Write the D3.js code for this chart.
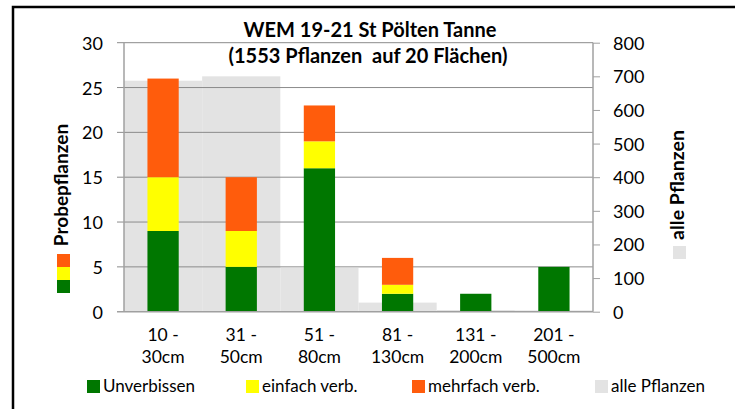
<!DOCTYPE html>
<html>
<head>
<meta charset="utf-8">
<script src="https://cdn.jsdelivr.net/npm/d3@7"></script>
<style>
  body { margin: 0; background: #fff; }
  text { font-family: Lato, "Open Sans", sans-serif; fill: #000; }
</style>
</head>
<body>
<div id="chart"></div>
<script>
// data
const categories = ["10 - 30cm", "31 - 50cm", "51 - 80cm", "81 - 130cm", "131 - 200cm", "201 - 500cm"];
const unverbissen = [9, 5, 16, 2, 2, 5];
const einfach = [6, 4, 3, 1, 0, 0];
const mehrfach = [11, 6, 4, 3, 0, 0];
const allePflanzen = [687, 700, 130, 27, 5, 4];
const leftTicks = [0, 5, 10, 15, 20, 25, 30];
const rightTicks = [0, 100, 200, 300, 400, 500, 600, 700, 800];

const seriesNames = ["Unverbissen", "einfach verb.", "mehrfach verb."];
const colors = ["#007700", "#ffff00", "#ff5c0c"];
const grayColor = "#e3e3e3";

// set the dimensions and margins of the graph
const W = 735, H = 409;
const margin = {top: 42.7, right: 142, bottom: 97.3, left: 124},
    width = W - margin.left - margin.right,
    height = H - margin.top - margin.bottom;

const svgRoot = d3.select("#chart")
  .append("svg")
  .attr("width", W)
  .attr("height", H);

// frame around the chart
svgRoot.append("rect")
  .attr("x", 13).attr("y", 7)
  .attr("width", 740).attr("height", 420)
  .attr("fill", "none")
  .attr("stroke", "#000")
  .attr("stroke-width", 2.5);

const svg = svgRoot.append("g")
  .attr("transform", `translate(${margin.left},${margin.top})`);

const x = d3.scaleBand()
  .domain(categories)
  .range([0, width])
  .padding(0);

const y = d3.scaleLinear().domain([0, 30]).range([height, 0]);
const y2 = d3.scaleLinear().domain([0, 800]).range([height, 0]);

// gray bars (secondary axis)
svg.append("g")
  .selectAll("rect")
  .data(allePflanzen)
  .join("rect")
  .attr("x", (d, i) => x(categories[i]))
  .attr("width", x.bandwidth())
  .attr("y", d => y2(d))
  .attr("height", d => height - y2(d))
  .attr("fill", grayColor);

// gridlines
svg.append("g")
  .selectAll("line")
  .data(leftTicks.filter(d => d > 0))
  .join("line")
  .attr("x1", -7).attr("x2", width)
  .attr("y1", d => y(d)).attr("y2", d => y(d))
  .attr("stroke", "#8c8c8c")
  .attr("stroke-width", 1);

// stacked bars
const rows = categories.map((c, i) => ({cat: c, u: unverbissen[i], e: einfach[i], m: mehrfach[i]}));
const stack = d3.stack().keys(["u", "e", "m"])(rows);
const barW = x.bandwidth() * 0.4;

svg.append("g")
  .selectAll("g")
  .data(stack)
  .join("g")
  .attr("fill", (d, i) => colors[i])
  .selectAll("rect")
  .data(d => d.filter(p => p[1] > p[0]))
  .join("rect")
  .attr("x", d => x(d.data.cat) + (x.bandwidth() - barW) / 2)
  .attr("width", barW)
  .attr("y", d => y(d[1]))
  .attr("height", d => y(d[0]) - y(d[1]));

// axes lines
svg.append("line")
  .attr("x1", 0).attr("x2", 0).attr("y1", 0).attr("y2", height)
  .attr("stroke", "#a0a0a0").attr("stroke-width", 1.5);
svg.append("line")
  .attr("x1", -7).attr("x2", width).attr("y1", height).attr("y2", height)
  .attr("stroke", "#a0a0a0").attr("stroke-width", 1.5);

// left axis
const leftAxis = svg.append("g")
  .call(d3.axisLeft(y).tickValues(leftTicks).tickSize(0).tickPadding(21));
leftAxis.select(".domain").remove();
leftAxis.selectAll("text")
  .style("font-size", "18px")
  .attr("dy", "0.36em");

// right axis
const rightAxis = svg.append("g")
  .attr("transform", `translate(${width},0)`)
  .call(d3.axisRight(y2).tickValues(rightTicks).tickSize(7).tickPadding(13));
rightAxis.select(".domain")
  .attr("stroke", "#a0a0a0").attr("stroke-width", 1.5)
  .attr("d", `M0,0V${height}`);
rightAxis.selectAll(".tick line").attr("stroke", "#a0a0a0");
rightAxis.selectAll("text")
  .style("font-size", "18px")
  .attr("dy", "0.36em");

// x labels on two lines
const xl = svg.append("g")
  .selectAll("text")
  .data(categories)
  .join("text")
  .attr("x", d => x(d) + x.bandwidth() / 2)
  .attr("y", height + 29)
  .attr("text-anchor", "middle")
  .style("font-size", "17.5px");
xl.append("tspan")
  .attr("x", d => x(d) + x.bandwidth() / 2)
  .text(d => d.split(" ").slice(0, 2).join(" "));
xl.append("tspan")
  .attr("x", d => x(d) + x.bandwidth() / 2)
  .attr("dy", 22.5)
  .text(d => d.split(" ")[2]);

// title
svgRoot.append("text")
  .attr("x", 370).attr("y", 37)
  .attr("text-anchor", "middle")
  .style("font-size", "20px").style("font-weight", "bold")
  .text("WEM 19-21 St Pölten Tanne");
svgRoot.append("text")
  .attr("x", 368).attr("y", 63)
  .attr("text-anchor", "middle")
  .style("font-size", "20px").style("font-weight", "bold")
  .style("white-space", "pre")
  .text("(1553 Pflanzen  auf 20 Flächen)");

// left axis title with swatches
svgRoot.append("text")
  .attr("transform", "translate(68,185) rotate(-90)")
  .attr("text-anchor", "middle")
  .style("font-size", "19px").style("font-weight", "bold")
  .text("Probepflanzen");
svgRoot.append("g")
  .selectAll("rect")
  .data(colors.slice().reverse())
  .join("rect")
  .attr("x", 57).attr("width", 13)
  .attr("y", (d, i) => 254 + i * 13).attr("height", 13)
  .attr("fill", d => d);

// right axis title with swatch
svgRoot.append("text")
  .attr("transform", "translate(684,185) rotate(-90)")
  .attr("text-anchor", "middle")
  .style("font-size", "19.5px").style("font-weight", "bold")
  .text("alle Pflanzen");
svgRoot.append("rect")
  .attr("x", 673).attr("y", 246).attr("width", 13).attr("height", 13)
  .attr("fill", grayColor);

// bottom legend
const legendNames = seriesNames.concat(["alle Pflanzen"]);
const legendColors = colors.concat([grayColor]);
const legendX = [87, 246, 412, 595];
const lg = svgRoot.append("g")
  .selectAll("g")
  .data(legendNames)
  .join("g")
  .attr("transform", (d, i) => `translate(${legendX[i]},380)`);
lg.append("rect")
  .attr("width", 13).attr("height", 13)
  .attr("fill", (d, i) => legendColors[i]);
lg.append("text")
  .attr("x", 16).attr("y", 11.5)
  .style("font-size", "17px")
  .text(d => d);
</script>
</body>
</html>
